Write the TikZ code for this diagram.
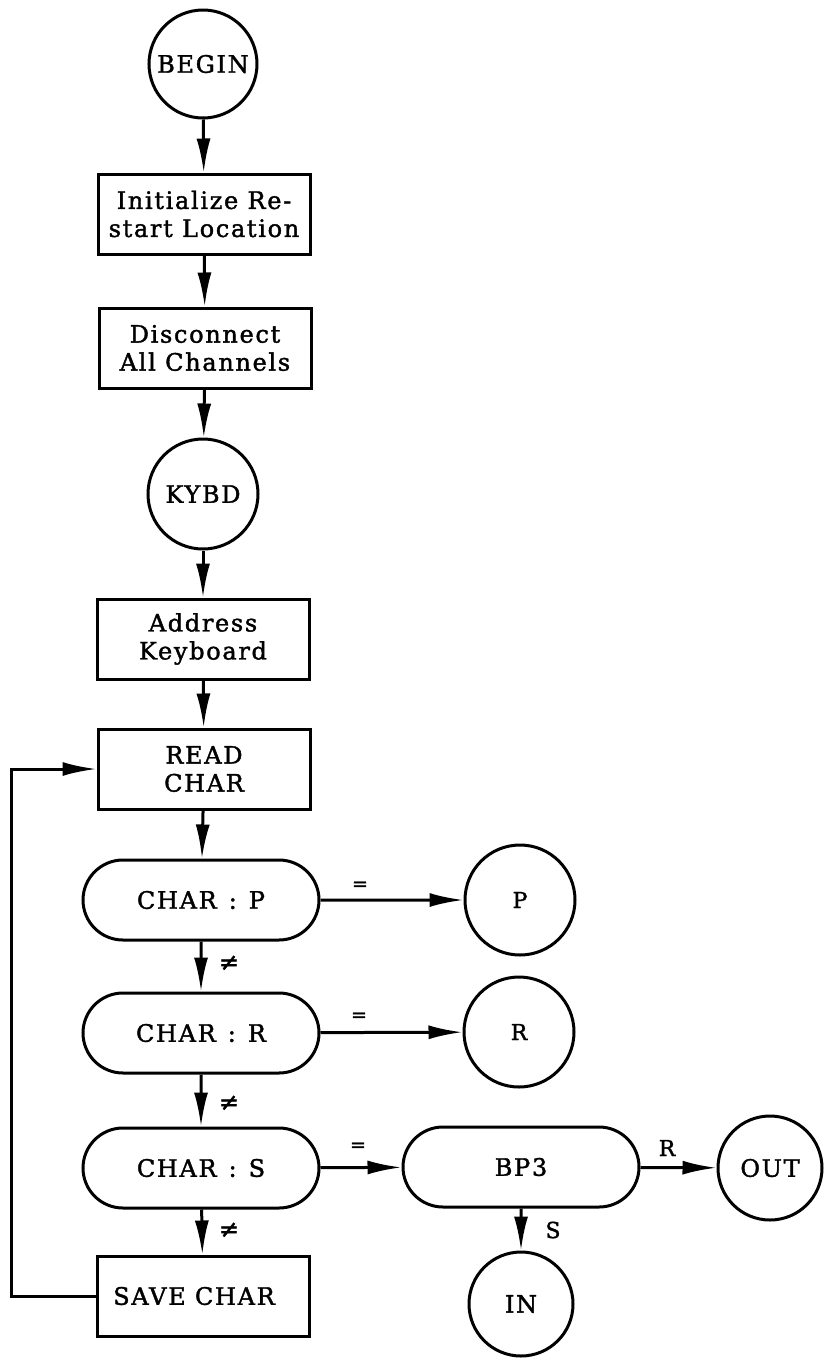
\documentclass[tikz,border=0pt]{standalone}
\usepackage{fontspec}
\setmainfont{DejaVu Serif}[LetterSpace=7,FakeBold=1.6]
\usetikzlibrary{arrows.meta,shapes.misc}
\begin{document}
\begin{tikzpicture}[x=1pt,y=-1pt,
  line width=3pt,
  every node/.style={font=\fontsize{24}{28}\selectfont, align=center, inner sep=0pt},
  boxnode/.style={draw, rectangle, minimum width=212pt, minimum height=80pt},
  pill/.style={draw, rounded rectangle, minimum width=236pt, minimum height=80pt},
  term/.style={draw, circle, minimum size=#1},
  term/.default=108pt,
  arr/.style={-{Latex[length=34pt,width=14pt]}},
  eqlbl/.style={font=\fontsize{19}{20}\selectfont},
  nelbl/.style={font=\fontsize{24}{24}\selectfont}
]
\useasboundingbox (0,0) rectangle (824,1363);

% main column
\node[term] (begin) at (203,64) {BEGIN};
\node[boxnode] (init) at (204,214) {Initialize Re-\\start Location};
\node[boxnode] (disc) at (205,348) {Disconnect\\All Channels};
\node[term=110pt] (kybd) at (203,494) {KYBD};
\node[boxnode] (addr) at (203,639) {Address\\Keyboard};
\node[boxnode] (read) at (204,769) {READ\\CHAR};
\node[pill] (cp) at (201,900) {CHAR\enspace:\enspace P};
\node[pill] (cr) at (201,1033) {CHAR\enspace:\enspace R};
\node[pill] (cs) at (201,1168) {CHAR\enspace:\enspace S};
\node[boxnode] (save) at (203,1296) {SAVE CHAR\hspace*{18pt}};

% right column
\node[term=110pt, font=\fontsize{22}{24}\selectfont] (p) at (520,900) {P};
\node[term=110pt, font=\fontsize{22}{24}\selectfont] (r) at (519,1032) {R};
\node[pill] (bp) at (521,1167) {BP3};
\node[term=104pt] (out) at (770,1168) {OUT};
\node[term=104pt] (in) at (521,1304) {IN};

% connectors
\draw[arr] (begin) -- (init);
\draw[arr] (init) -- (disc);
\draw[arr] (disc) -- (kybd);
\draw[arr] (kybd) -- (addr);
\draw[arr] (addr) -- (read);
\draw[arr] (read) -- (cp);
\draw[arr] (cp) -- (cr);
\draw[arr] (cr) -- (cs);
\draw[arr] (cs) -- (save);
\draw[arr] (cp) -- (p);
\draw[arr] (cr) -- (r);
\draw[arr] (cs) -- (bp);
\draw[arr] (bp) -- (out);
\draw[arr] (bp) -- (in);

% loop back
\coordinate (lx) at (11,0);
\draw[arr] (save.west) -- (save.west -| lx) -- (read.west -| lx) -- (read.west);

% labels
\node[nelbl] (ne1) at (229,963) {≠};
\node[nelbl] (ne2) at (229,1103) {≠};
\node[nelbl] (ne3) at (229,1230) {≠};
\node[eqlbl] (eq1) at (360,886) {=};
\node[eqlbl] (eq2) at (359,1017) {=};
\node[eqlbl] (eq3) at (358,1147) {=};
\node[font=\fontsize{22}{24}\selectfont] (lr) at (667,1148) {R};
\node[font=\fontsize{22}{24}\selectfont] (ls) at (553,1230) {S};
\end{tikzpicture}
\end{document}
